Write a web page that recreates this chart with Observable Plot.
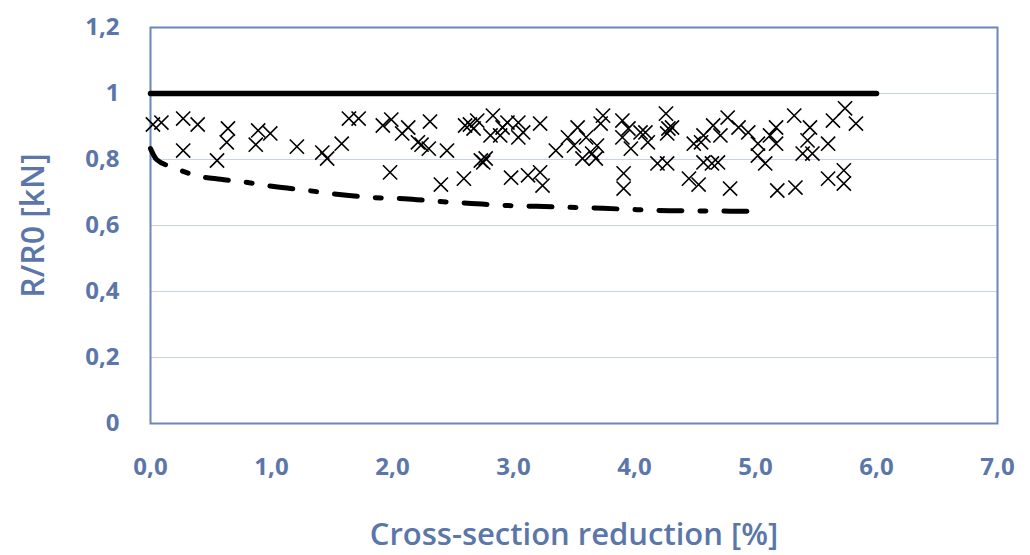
<!DOCTYPE html>
<html>
<head>
<meta charset="utf-8">
<script src="https://cdn.jsdelivr.net/npm/d3@7"></script>
<script src="https://cdn.jsdelivr.net/npm/@observablehq/plot@0.6"></script>
<style>
  html, body { margin: 0; padding: 0; background: #fff; }
  #chart { width: 1030px; height: 555px; }
</style>
</head>
<body>
<div id="chart"></div>
<script>
// ---- data ----
const xTicks = [0, 1, 2, 3, 4, 5, 6, 7];
const xTickLabels = ["0,0", "1,0", "2,0", "3,0", "4,0", "5,0", "6,0", "7,0"];
const yTicks = [0, 0.2, 0.4, 0.6, 0.8, 1, 1.2];
const yTickLabels = ["0", "0,2", "0,4", "0,6", "0,8", "1", "1,2"];
const gridValues = [0.2, 0.4, 0.6, 0.8, 1.0];

const xLabel = "Cross-section reduction [%]";
const yLabel = "R/R0 [kN]";

// measured points (cross-section reduction %, R/R0)
const pointX = [0.02,0.09,0.27,0.39,0.27,0.64,0.63,0.55,0.89,0.87,0.99,1.21,1.42,1.46,1.58,1.64,1.72,1.92,1.99,1.98,
  2.13,2.08,2.21,2.24,2.30,2.31,2.45,2.40,2.59,2.60,2.64,2.70,2.67,2.83,2.81,2.91,2.95,2.89,2.73,2.77,
  2.75,2.98,3.04,3.04,3.08,3.22,3.12,3.22,3.24,3.35,3.53,3.45,3.50,3.60,3.69,3.57,3.65,3.68,3.74,3.72,
  3.90,3.95,3.90,3.97,4.05,3.91,3.91,4.09,4.11,4.26,4.28,4.27,4.31,4.19,4.27,4.49,4.57,4.55,4.65,4.71,
  4.77,4.86,4.94,5.02,5.02,5.08,4.57,4.64,4.69,4.45,4.53,4.79,5.17,5.12,5.17,5.32,5.45,5.43,5.60,5.39,
  5.47,5.64,5.74,5.83,5.18,5.33,5.60,5.73,5.73];
const pointY = [0.906,0.912,0.924,0.906,0.827,0.894,0.852,0.797,0.888,0.845,0.879,0.839,0.821,0.803,0.848,0.924,0.924,0.903,0.921,0.761,
  0.897,0.879,0.852,0.845,0.833,0.915,0.827,0.724,0.742,0.903,0.906,0.918,0.894,0.933,0.873,0.897,0.912,0.873,0.797,0.803,
  0.791,0.745,0.867,0.912,0.882,0.909,0.752,0.761,0.721,0.827,0.897,0.867,0.842,0.867,0.842,0.803,0.818,0.803,0.933,0.909,
  0.918,0.894,0.867,0.833,0.882,0.758,0.712,0.882,0.852,0.939,0.894,0.879,0.897,0.788,0.788,0.848,0.873,0.852,0.903,0.873,
  0.927,0.897,0.882,0.848,0.812,0.788,0.791,0.788,0.791,0.742,0.724,0.712,0.897,0.873,0.848,0.933,0.897,0.858,0.848,0.818,
  0.818,0.918,0.955,0.909,0.706,0.715,0.742,0.767,0.727];

// reference level (solid line)
const refX = [0, 6];
const refY = [1, 1];

// lower bound curve (dash-dot)
const curveX = [0,0.05,0.19,0.39,0.58,0.75,1.02,1.30,1.56,1.83,2.1,2.38,2.65,2.92,3.19,3.47,3.74,4.02,4.29,4.6,4.95];
const curveY = [0.833,0.80,0.776,0.750,0.740,0.733,0.718,0.706,0.694,0.685,0.681,0.673,0.667,0.661,0.658,0.655,0.652,0.648,0.645,0.644,0.643];

// ---- build tables ----
const points = pointX.map((x, i) => ({x, y: pointY[i]}));
const ref = refX.map((x, i) => ({x, y: refY[i]}));
const curve = curveX.map((x, i) => ({x, y: curveY[i]}));

const axisColor = "#5B76A8";
const font = "'Open Sans', sans-serif";

const chart = Plot.plot({
  width: 1030,
  height: 555,
  marginLeft: 150,
  marginRight: 33,
  marginTop: 27,
  marginBottom: 132,
  style: {fontFamily: font, fontSize: "24px", fontWeight: 700, color: axisColor, background: "#fff", overflow: "visible"},
  x: {domain: [0, 7]},
  y: {domain: [0, 1.2]},
  marks: [
    Plot.ruleY(gridValues, {stroke: "#C9D2E5", strokeWidth: 1.2}),
    Plot.axisX({ticks: xTicks, tickFormat: (d) => xTickLabels[xTicks.indexOf(d)], tickSize: 0, tickPadding: 34, label: null, fill: axisColor}),
    Plot.axisY({ticks: yTicks, tickFormat: (d) => yTickLabels[yTicks.findIndex(t => Math.abs(t - d) < 1e-9)], tickSize: 0, tickPadding: 31, label: null, fill: axisColor}),
    Plot.text([xLabel], {frameAnchor: "bottom", dy: 121, textAnchor: "middle", fontSize: 31, fontWeight: 600, fill: axisColor}),
    Plot.text([yLabel], {frameAnchor: "left", dx: -117, textAnchor: "middle", rotate: -90, fontSize: 32, fontWeight: 600, fill: axisColor}),
    Plot.frame({stroke: "#6C86B7", strokeWidth: 2}),
    Plot.line(ref, {x: "x", y: "y", stroke: "#000", strokeWidth: 5.5, strokeLinecap: "round"}),
    Plot.line(curve, {x: "x", y: "y", stroke: "#000", strokeWidth: 5, curve: "monotone-x", strokeDasharray: "23,18,6,18"}),
    Plot.dot(points, {x: "x", y: "y", symbol: "times", r: 6.5, stroke: "#000", strokeWidth: 1.6})
  ]
});
document.getElementById("chart").appendChild(chart);
</script>
</body>
</html>
